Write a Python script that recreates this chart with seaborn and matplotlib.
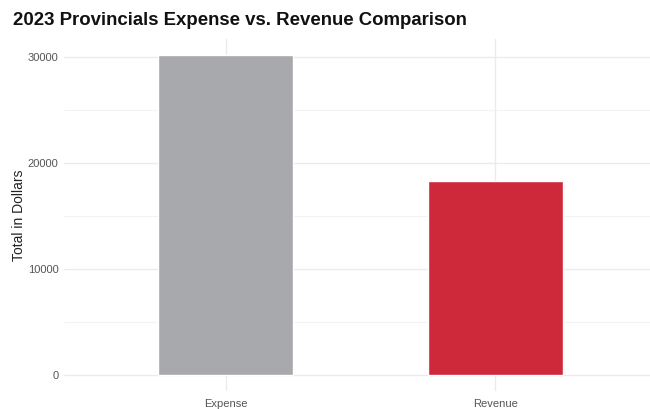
import matplotlib
matplotlib.use("Agg")
import matplotlib.pyplot as plt
import seaborn as sns
import pandas as pd
from matplotlib.ticker import MultipleLocator

categories = ["Expense", "Revenue"]
totals = [30200, 18300]
bar_colors = ["#A8A9AD", "#CE283B"]

df = pd.DataFrame({"Category": categories, "Total": totals})

sns.set_theme(style="white")
plt.rcParams["font.family"] = ["Liberation Sans", "DejaVu Sans"]

fig = plt.figure(figsize=(6.5, 4.09), dpi=100)
ax = fig.add_axes([0.0985, 0.044, 0.9015, 0.8605])

sns.barplot(data=df, x="Category", y="Total", hue="Category",
            palette=bar_colors, width=0.5, legend=False, ax=ax,
            saturation=1, zorder=3)

ymax = max(totals)
ax.set_ylim(-0.05 * ymax, 1.05 * ymax)
ax.set_xlim(-0.6, 1.573)

ax.yaxis.set_major_locator(MultipleLocator(10000))
ax.yaxis.set_minor_locator(MultipleLocator(5000))
ax.grid(axis="y", which="major", color="#EBEBEB", linewidth=1.0, zorder=0)
ax.grid(axis="y", which="minor", color="#F3F3F3", linewidth=0.8, zorder=0)
ax.grid(axis="x", which="major", color="#EBEBEB", linewidth=1.0, zorder=0)
ax.set_axisbelow(True)

for s in ax.spines.values():
    s.set_visible(False)

ax.tick_params(axis="both", which="both", length=0, labelsize=8,
               labelcolor="#555555")
ax.tick_params(axis="x", pad=6)
ax.tick_params(axis="y", pad=4)

ax.set_xlabel("")
ax.set_ylabel("Total in Dollars", fontsize=10, color="#222222", labelpad=1)

fig.text(0.02, 0.94, "2023 Provincials Expense vs. Revenue Comparison",
         fontsize=13.4, fontweight="bold", color="#111111", ha="left",
         va="baseline")

fig.savefig("out.png", dpi=100, facecolor="white")
